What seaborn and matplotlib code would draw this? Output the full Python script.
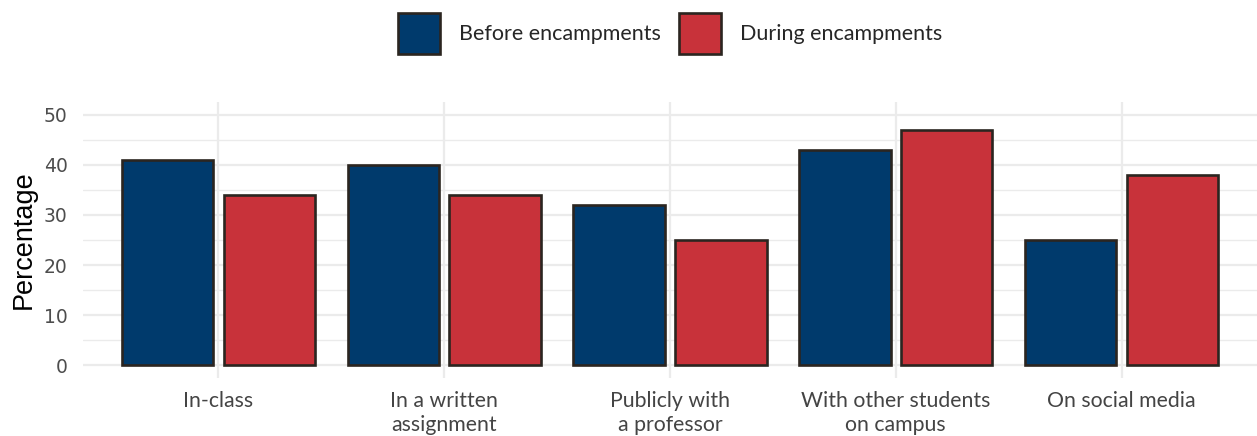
import matplotlib
matplotlib.use("Agg")
import matplotlib.pyplot as plt
import seaborn as sns
import pandas as pd
from matplotlib.patches import Patch
from matplotlib.ticker import MultipleLocator

categories = ["In-class", "In a written\nassignment", "Publicly with\na professor",
              "With other students\non campus", "On social media"]
before = [41, 40, 32, 43, 25]
during = [34, 34, 25, 47, 38]
series = ["Before encampments", "During encampments"]
colors = ["#003a6c", "#c8323a"]
edge = "#2b2520"

df = pd.DataFrame({
    "category": categories * 2,
    "value": before + during,
    "period": [series[0]] * len(categories) + [series[1]] * len(categories),
})

sns.set_theme(style="white")
plt.rcParams["font.family"] = ["Lato", "DejaVu Sans"]

fig = plt.figure(figsize=(12.57, 4.36), dpi=100)
ax = fig.add_axes([83 / 1257, (436 - 378) / 436, 1 - 83 / 1257, (378 - 102) / 436])

sns.barplot(data=df, x="category", y="value", hue="period", palette=colors,
            width=0.9, gap=0.1, edgecolor=edge, linewidth=1.9, ax=ax,
            saturation=1, legend=False, zorder=3)

ax.set_xlim(-0.6, 4.6)
ax.set_ylim(-2.5, 52.5)
ax.yaxis.set_major_locator(MultipleLocator(10))
ax.yaxis.set_minor_locator(MultipleLocator(5))
ax.grid(which="major", axis="both", color="#ebebeb", linewidth=1.6, zorder=0)
ax.grid(which="minor", axis="y", color="#ebebeb", linewidth=1.0, zorder=0)
ax.set_axisbelow(True)
for s in ax.spines.values():
    s.set_visible(False)

ax.set_xlabel("")
ax.set_ylabel("Percentage", fontsize=19.5, color="black", labelpad=5,
              family=["Liberation Sans", "DejaVu Sans"])
ax.tick_params(axis="x", length=0, pad=9, labelsize=15.3, labelcolor="#444444")
ax.tick_params(axis="y", which="both", length=0, pad=11, labelsize=13.5, labelcolor="#4d4d4d")
for lab in ax.get_xticklabels():
    lab.set_linespacing(1.25)
for lab in ax.get_yticklabels():
    lab.set_family(["DejaVu Sans"])

handles = [Patch(facecolor=c, edgecolor=edge, linewidth=1.9) for c in colors]
fig.legend(handles, series, loc="center", bbox_to_anchor=(670 / 1257, 1 - 33.5 / 436),
           ncol=2, frameon=False, fontsize=15.5, handlelength=1.95, handleheight=2.6,
           handletextpad=0.88, columnspacing=0.84)

fig.savefig("out.png", dpi=100)
